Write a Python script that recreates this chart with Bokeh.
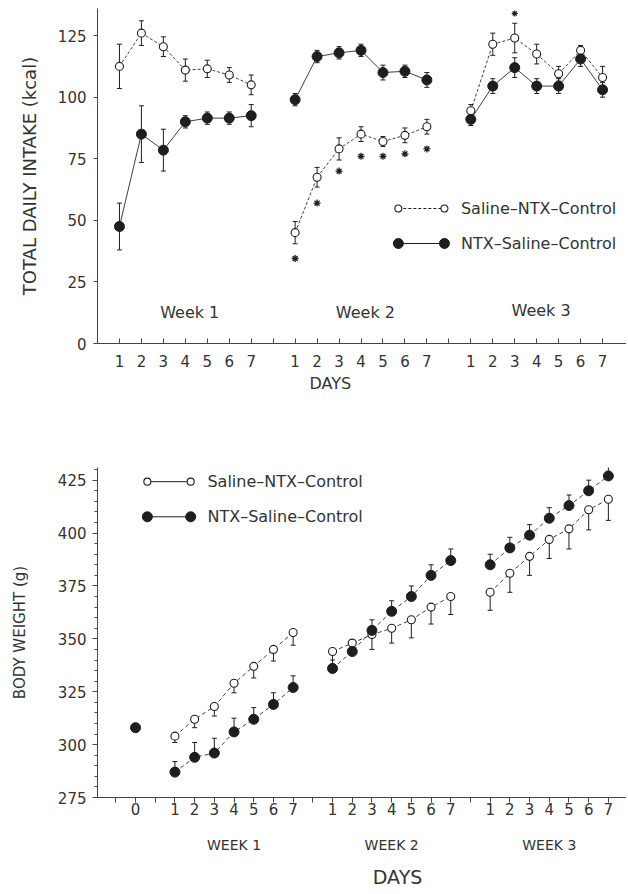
from bokeh.plotting import figure
from bokeh.layouts import column
from bokeh.models import FixedTicker, LinearAxis, Range1d
from bokeh.core.properties import value
from bokeh.embed import file_html
from bokeh.resources import INLINE

# ---------------- data ----------------
day_labels = ["1", "2", "3", "4", "5", "6", "7"]
week_labels_top = ["Week 1", "Week 2", "Week 3"]
week_labels_bottom = ["WEEK 1", "WEEK 2", "WEEK 3"]
series_names = ["Saline\u2013NTX\u2013Control", "NTX\u2013Saline\u2013Control"]

# Top panel: total daily intake (kcal), mean and SEM per day
intake_saline_w1 = [112.5, 126, 120.5, 111, 111.5, 109, 105]
intake_saline_w1_err = [9, 5, 4, 4.5, 3.5, 3, 4]
intake_saline_w2 = [45, 67.5, 79, 85, 82, 84.5, 88]
intake_saline_w2_err = [4.5, 4, 4.5, 3, 2, 3, 3]
intake_saline_w3 = [94.5, 121.5, 124, 117.5, 109.5, 119, 108]
intake_saline_w3_err = [2.5, 4.5, 6, 4, 3, 2, 4.5]

intake_ntx_w1 = [47.5, 85, 78.5, 90, 91.5, 91.5, 92.5]
intake_ntx_w1_err = [9.5, 11.5, 8.5, 2.5, 2.5, 2.5, 4.5]
intake_ntx_w2 = [99, 116.5, 118, 119, 110, 110.5, 107]
intake_ntx_w2_err = [2.5, 2.5, 2.5, 2.5, 3, 2.5, 3]
intake_ntx_w3 = [91, 104.5, 112, 104.5, 104.5, 115.5, 103]
intake_ntx_w3_err = [2.5, 3, 4, 3, 3, 3, 3]

# significance marks (asterisks)
sig_w2_y = [34.5, 57, 70, 76, 76, 77, 79]
sig_w3_day = [3]
sig_w3_y = [134]

# Bottom panel: body weight (g)
bw_day0_ntx = [308]
bw_day0_ntx_err = [2]
bw_saline_w1 = [304, 312, 318, 329, 337, 345, 353]
bw_saline_w1_err = [3, 4, 4.5, 4.5, 5.5, 5.5, 6]
bw_saline_w2 = [344, 348, 352, 355, 359, 365, 370]
bw_saline_w2_err = [6, 4, 7, 7, 8.5, 8, 8.5]
bw_saline_w3 = [372, 381, 389, 397, 402, 411, 416]
bw_saline_w3_err = [8.5, 9, 9, 9, 9.5, 9.5, 10]

bw_ntx_w1 = [287, 294, 296, 306, 312, 319, 327]
bw_ntx_w1_err = [5, 7, 7, 6.5, 5.5, 5.5, 5.5]
bw_ntx_w2 = [336, 344, 354, 363, 370, 380, 387]
bw_ntx_w2_err = [4, 4, 5, 5, 5, 5, 5.5]
bw_ntx_w3 = [385, 393, 399, 407, 413, 420, 427]
bw_ntx_w3_err = [5, 5, 5, 5, 5, 5, 6]

intake_ticks_y = [0, 25, 50, 75, 100, 125]
bw_ticks_y = [275, 300, 325, 350, 375, 400, 425]

# ---------------- style ----------------
FONT = "DejaVu Sans"
INK = "#1e1e1e"
TXT = "#333333"


def top_pos(week, i):
    return (week - 1) * 8 + 1 + i


def bot_pos(week, i):
    return (week - 1) * 8 + 2 + i


def style_axis(ax, size="15px"):
    ax.major_label_text_font = FONT
    ax.major_label_text_font_size = size
    ax.major_label_text_color = TXT
    ax.axis_label_text_font = FONT
    ax.axis_label_text_font_style = "normal"
    ax.axis_label_text_color = TXT
    ax.axis_line_color = "#444444"
    ax.major_tick_line_color = "#444444"
    ax.minor_tick_line_color = "#444444"


def draw_lines(p, xs, ys, dash):
    p.line(xs, ys, line_color=INK, line_width=1, line_dash=dash, line_alpha=0.85)


def draw_err(p, xs, lo, hi, cap_lo=True, cap_hi=True):
    p.segment(x0=xs, y0=lo, x1=xs, y1=hi, line_color=INK, line_width=1)
    if cap_hi:
        p.scatter(xs, hi, marker="dash", size=5, line_color=INK, line_width=1)
    if cap_lo:
        p.scatter(xs, lo, marker="dash", size=5, line_color=INK, line_width=1)


def draw_marks(p, xs, ys, filled, size=None):
    if filled:
        p.scatter(xs, ys, marker="circle", size=size or 10, fill_color=INK,
                  line_color=INK, line_width=1)
    else:
        p.scatter(xs, ys, marker="circle", size=size or 8, fill_color="white",
                  line_color=INK, line_width=1.1)


# ================= TOP PANEL =================
p1 = figure(width=626, height=400, x_range=Range1d(0, 24.09), y_range=Range1d(0, 136),
            output_backend="svg", toolbar_location=None,
            min_border_left=96, min_border_right=0, min_border_top=8, min_border_bottom=57)
p1.outline_line_color = None
p1.grid.visible = False

sal_top = [(intake_saline_w1, intake_saline_w1_err), (intake_saline_w2, intake_saline_w2_err),
           (intake_saline_w3, intake_saline_w3_err)]
ntx_top = [(intake_ntx_w1, intake_ntx_w1_err), (intake_ntx_w2, intake_ntx_w2_err),
           (intake_ntx_w3, intake_ntx_w3_err)]

for w in range(3):
    xs = [top_pos(w + 1, i) for i in range(7)]
    draw_lines(p1, xs, sal_top[w][0], "3 2")
    draw_lines(p1, xs, ntx_top[w][0], "solid")
for w in range(3):
    xs = [top_pos(w + 1, i) for i in range(7)]
    for vals, errs in (sal_top[w], ntx_top[w]):
        draw_err(p1, xs, [v - e for v, e in zip(vals, errs)], [v + e for v, e in zip(vals, errs)])
for w in range(3):
    xs = [top_pos(w + 1, i) for i in range(7)]
    draw_marks(p1, xs, sal_top[w][0], False)
    draw_marks(p1, xs, ntx_top[w][0], True)

# asterisks
p1.scatter([top_pos(2, i) for i in range(7)], sig_w2_y, marker="asterisk", size=7,
           line_color=INK, line_width=1.3)
p1.scatter([top_pos(3, d - 1) for d in sig_w3_day], sig_w3_y, marker="asterisk", size=6,
           line_color=INK, line_width=1.2)

# week labels
p1.text(x=[4.2, 12.2, 20.2], y=[12.6, 12.6, 13.2], text=week_labels_top,
        text_font=value(FONT), text_font_size="16px", text_color=TXT,
        text_align="center", text_baseline="middle")

# legend (drawn in plot)
leg_x0, leg_x1, leg_tx = 13.7, 15.8, 16.55
leg_y = [54.8, 40.6]
p1.line([leg_x0, leg_x1], [leg_y[0], leg_y[0]], line_color=INK, line_width=1, line_dash="3 2")
p1.line([leg_x0, leg_x1], [leg_y[1], leg_y[1]], line_color=INK, line_width=1)
draw_marks(p1, [leg_x0, leg_x1], [leg_y[0], leg_y[0]], False, size=7)
draw_marks(p1, [leg_x0, leg_x1], [leg_y[1], leg_y[1]], True, size=10)
p1.text(x=[leg_tx, leg_tx], y=leg_y, text=series_names, text_font=value(FONT),
        text_font_size="16px", text_color=TXT, text_align="left", text_baseline="middle")

# axes
top_ticks = list(range(1, 24))
top_over = {t: "" for t in top_ticks}
for w in range(3):
    for i, lab in enumerate(day_labels):
        top_over[top_pos(w + 1, i)] = lab
xa = p1.xaxis[0]
xa.ticker = FixedTicker(ticks=top_ticks)
xa.major_label_overrides = top_over
xa.major_tick_in = 5
xa.major_tick_out = 0
xa.minor_tick_line_color = None
xa.major_label_standoff = 11
style_axis(xa)

ya = p1.yaxis[0]
ya.ticker = FixedTicker(ticks=intake_ticks_y)
ya.major_tick_in = 0
ya.major_tick_out = 4
ya.minor_tick_line_color = None
ya.major_label_standoff = 7
ya.axis_label = "TOTAL DAILY INTAKE (kcal)"
ya.axis_label_standoff = 15
style_axis(ya)
ya.axis_label_text_font_size = "18px"

days_top = LinearAxis(ticker=FixedTicker(ticks=[10.6]), major_label_overrides={10.6: "DAYS"})
style_axis(days_top, "16px")
days_top.axis_line_color = None
days_top.major_tick_line_color = None
days_top.minor_tick_line_color = None
days_top.major_tick_in = 0
days_top.major_tick_out = 0
days_top.major_label_standoff = 4
p1.add_layout(days_top, "below")

# ================= BOTTOM PANEL =================
p2 = figure(width=626, height=490, x_range=Range1d(-1.93, 24.92), y_range=Range1d(275, 431),
            output_backend="svg", toolbar_location=None,
            min_border_left=97, min_border_right=0, min_border_top=67, min_border_bottom=92)
p2.outline_line_color = None
p2.grid.visible = False

sal_bot = [(bw_saline_w1, bw_saline_w1_err), (bw_saline_w2, bw_saline_w2_err),
           (bw_saline_w3, bw_saline_w3_err)]
ntx_bot = [(bw_ntx_w1, bw_ntx_w1_err), (bw_ntx_w2, bw_ntx_w2_err), (bw_ntx_w3, bw_ntx_w3_err)]

for w in range(3):
    xs = [bot_pos(w + 1, i) for i in range(7)]
    draw_lines(p2, xs, sal_bot[w][0], "4 3")
    draw_lines(p2, xs, ntx_bot[w][0], "4 3")
for w in range(3):
    xs = [bot_pos(w + 1, i) for i in range(7)]
    v, e = sal_bot[w]
    draw_err(p2, xs, [a - b for a, b in zip(v, e)], v, cap_hi=False)
    v, e = ntx_bot[w]
    draw_err(p2, xs, v, [a + b for a, b in zip(v, e)], cap_lo=False)
draw_err(p2, [0], [a - b for a, b in zip(bw_day0_ntx, bw_day0_ntx_err)], bw_day0_ntx, cap_hi=False)
for w in range(3):
    xs = [bot_pos(w + 1, i) for i in range(7)]
    draw_marks(p2, xs, sal_bot[w][0], False)
    draw_marks(p2, xs, ntx_bot[w][0], True)
draw_marks(p2, [0], bw_day0_ntx, True)

# legend
lb_x0, lb_x1, lb_tx = 0.6, 2.8, 3.65
lb_y = [424.3, 407.7]
p2.line([lb_x0, lb_x1], [lb_y[0], lb_y[0]], line_color=INK, line_width=1)
p2.line([lb_x0, lb_x1], [lb_y[1], lb_y[1]], line_color=INK, line_width=1)
draw_marks(p2, [lb_x0, lb_x1], [lb_y[0], lb_y[0]], False, size=7)
draw_marks(p2, [lb_x0, lb_x1], [lb_y[1], lb_y[1]], True, size=10)
p2.text(x=[lb_tx, lb_tx], y=lb_y, text=series_names, text_font=value(FONT),
        text_font_size="16px", text_color=TXT, text_align="left", text_baseline="middle")

bot_ticks = list(range(-1, 25))
bot_over = {t: "" for t in bot_ticks}
bot_over[0] = "0"
for w in range(3):
    for i, lab in enumerate(day_labels):
        bot_over[bot_pos(w + 1, i)] = lab
xb = p2.xaxis[0]
xb.ticker = FixedTicker(ticks=bot_ticks)
xb.major_label_overrides = bot_over
xb.major_tick_in = 0
xb.major_tick_out = 5
xb.minor_tick_line_color = None
xb.major_label_standoff = 0
style_axis(xb)

yb = p2.yaxis[0]
yb.ticker = FixedTicker(ticks=bw_ticks_y, minor_ticks=list(range(275, 431, 5)))
yb.major_tick_in = 0
yb.major_tick_out = 5
yb.minor_tick_in = 0
yb.minor_tick_out = 3
yb.major_label_standoff = 6
yb.axis_label = "BODY WEIGHT (g)"
yb.axis_label_standoff = 26
style_axis(yb)
yb.axis_label_text_font_size = "15px"

week_ax = LinearAxis(ticker=FixedTicker(ticks=[5, 13, 21]),
                     major_label_overrides={5: week_labels_bottom[0], 13: week_labels_bottom[1],
                                            21: week_labels_bottom[2]})
style_axis(week_ax, "14px")
week_ax.axis_line_color = None
week_ax.major_tick_line_color = None
week_ax.minor_tick_line_color = None
week_ax.major_tick_in = 0
week_ax.major_tick_out = 0
week_ax.major_label_standoff = 19
p2.add_layout(week_ax, "below")

days_bot = LinearAxis(ticker=FixedTicker(ticks=[13.3]), major_label_overrides={13.3: "DAYS"})
style_axis(days_bot, "19px")
days_bot.axis_line_color = None
days_bot.major_tick_line_color = None
days_bot.minor_tick_line_color = None
days_bot.major_tick_in = 0
days_bot.major_tick_out = 0
days_bot.major_label_standoff = 10
p2.add_layout(days_bot, "below")

layout = column(p1, p2, spacing=0)
open("out.html", "w").write(file_html(layout, INLINE))
